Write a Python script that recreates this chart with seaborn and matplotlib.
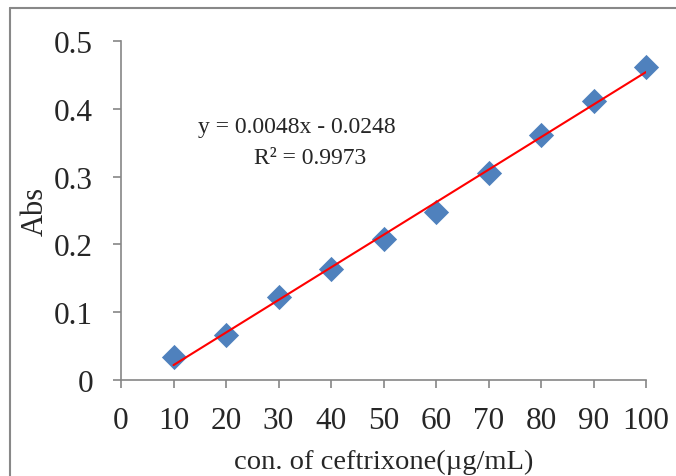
import numpy as np
import pandas as pd
import matplotlib
matplotlib.use("Agg")
import matplotlib.pyplot as plt
import seaborn as sns
from matplotlib.lines import Line2D

conc = [10, 20, 30, 40, 50, 60, 70, 80, 90, 100]
absorb = [0.034, 0.066, 0.122, 0.164, 0.208, 0.248, 0.305, 0.361, 0.411, 0.462]
x_ticks = [0, 10, 20, 30, 40, 50, 60, 70, 80, 90, 100]
y_ticks = [0, 0.1, 0.2, 0.3, 0.4, 0.5]
y_tick_labels = ["0", "0.1", "0.2", "0.3", "0.4", "0.5"]
eq_text = "y = 0.0048x - 0.0248"
r2_text = "R² = 0.9973"

sns.set_style("white")
plt.rcParams['font.family'] = ['Liberation Serif', 'DejaVu Serif']

df = pd.DataFrame({"conc": conc, "abs": absorb})
slope, intercept = np.polyfit(df["conc"], df["abs"], 1)
fit = pd.DataFrame({"conc": [min(conc), max(conc)]})
fit["abs"] = slope * fit["conc"] + intercept

fig = plt.figure(figsize=(6.76, 4.77), dpi=100)
ax = fig.add_axes([121/676, 1 - 381/477, (646-121)/676, (381-42)/477])

sns.scatterplot(data=df, x="conc", y="abs", marker="D", s=165, color="#4F81BD",
                edgecolor="#4F81BD", linewidth=0, ax=ax, zorder=2)
sns.lineplot(data=fit, x="conc", y="abs", color="#FF0000", linewidth=1.5, ax=ax, zorder=3)

ax.set_xlim(0, 100)
ax.set_ylim(0, 0.5)
ax.set_xticks(x_ticks)
ax.set_yticks(y_ticks)
ax.set_yticklabels(y_tick_labels)
ax.tick_params(axis="both", direction="out", length=6, width=1.2, color="#868686",
               labelsize=22.5, bottom=True, left=True)
ax.tick_params(axis="y", pad=14)
ax.tick_params(axis="x", pad=13)
for s in ["top", "right"]:
    ax.spines[s].set_visible(False)
for s in ["left", "bottom"]:
    ax.spines[s].set_color("#868686")
    ax.spines[s].set_linewidth(1.2)
for c in ax.collections:
    c.set_clip_on(False)

ax.set_xlabel("con. of ceftrixone(µg/mL)", fontsize=20.5, labelpad=10)
ax.set_ylabel("Abs", fontsize=22, labelpad=3)

fig.text(297/676, 1 - 128/477, eq_text, ha="center", va="center", fontsize=17)
fig.text(310/676, 1 - 158/477, r2_text, ha="center", va="center", fontsize=17)

fig.add_artist(Line2D([10/676, 10/676], [0, 1 - 9/477], transform=fig.transFigure,
                      color="#888888", linewidth=1.5))
fig.add_artist(Line2D([10/676, 1], [1 - 9/477, 1 - 9/477], transform=fig.transFigure,
                      color="#888888", linewidth=1.5))

fig.savefig("out.png", dpi=100)
